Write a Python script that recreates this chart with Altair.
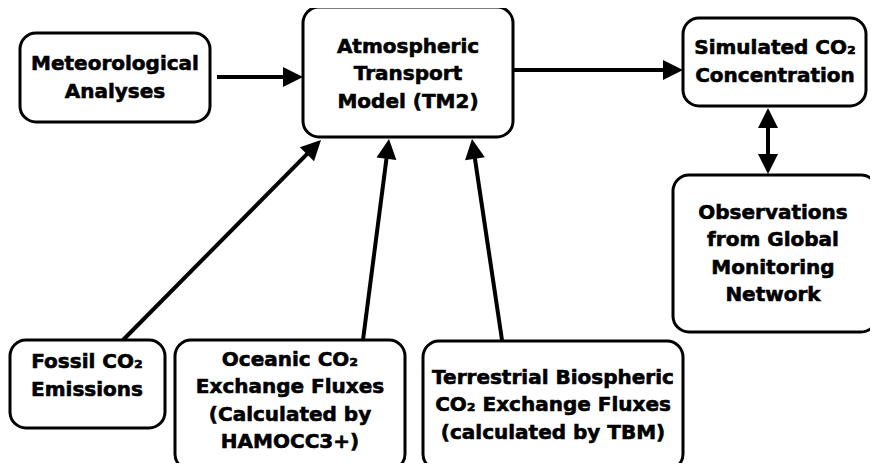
import altair as alt
import pandas as pd
import numpy as np

# ---- nodes (flowchart boxes), in picture pixel coordinates ----
labels = [
    "Meteorological\nAnalyses",
    "Atmospheric\nTransport\nModel (TM2)",
    "Simulated CO₂\nConcentration",
    "Observations\nfrom Global\nMonitoring\nNetwork",
    "Fossil CO₂\nEmissions",
    "Oceanic CO₂\nExchange Fluxes\n(Calculated by\nHAMOCC3+)",
    "Terrestrial Biospheric\nCO₂ Exchange Fluxes\n(calculated by TBM)",
]
box_x0 = [20, 303, 683, 673, 10, 175, 423]
box_x1 = [210, 513, 866, 877, 165, 405, 683]
box_y0 = [33, 7, 18, 175, 340, 340, 341]
box_y1 = [122, 137, 106, 332, 428, 470, 470]
text_x = [115, 408, 775, 773, 87, 290, 553]
text_y = [78, 74, 62, 254, 376, 401, 405]

# ---- edges (arrows) ----
edge_x0 = [217, 513, 768, 123, 363, 502]
edge_y0 = [77, 70, 108, 340, 340, 340]
edge_x1 = [303, 683, 768, 321, 389, 472]
edge_y1 = [77, 70, 174, 140, 139, 139]
edge_both = [False, False, True, False, False, False]

LH = 27.5
nodes = pd.DataFrame({"label": labels, "x0": box_x0, "x1": box_x1,
                      "y0": box_y0, "y1": box_y1, "tx": text_x, "ty": text_y})
nodes["nlines"] = nodes["label"].str.count("\n") + 1
nodes["ty_first"] = nodes["ty"] - (nodes["nlines"] - 1) * LH / 2

HEAD = 14.0
rows, heads = [], []
for x0, y0, x1, y1, both in zip(edge_x0, edge_y0, edge_x1, edge_y1, edge_both):
    dx, dy = x1 - x0, y1 - y0
    L = np.hypot(dx, dy)
    ux, uy = dx / L, dy / L
    sx, sy = x0, y0
    ex, ey = x1 - ux * HEAD, y1 - uy * HEAD
    heads.append({"x": x1, "y": y1, "angle": float(np.degrees(np.arctan2(dx, -dy)) % 360)})
    if both:
        sx, sy = x0 + ux * HEAD, y0 + uy * HEAD
        heads.append({"x": x0, "y": y0, "angle": float(np.degrees(np.arctan2(-dx, dy)) % 360)})
    rows.append({"x": sx, "y": sy, "x2": ex, "y2": ey})
lines = pd.DataFrame(rows)
heads = pd.DataFrame(heads)

xs = alt.Scale(domain=[8, 870], nice=False, zero=False)
ys = alt.Scale(domain=[8, 463], nice=False, zero=False, reverse=True)

boxes = alt.Chart(nodes).mark_rect(
    fill="white", stroke="black", strokeWidth=3, cornerRadius=16, clip=False
).encode(
    x=alt.X("x0:Q", scale=xs, axis=None), x2="x1:Q",
    y=alt.Y("y0:Q", scale=ys, axis=None), y2="y1:Q",
)

texts = alt.Chart(nodes).mark_text(
    font="DejaVu Sans", fontWeight="bold", fontSize=20, lineBreak="\n",
    lineHeight=LH, align="center", baseline="middle", color="black",
    stroke="black", strokeWidth=0.6
).encode(
    x=alt.X("tx:Q", scale=xs, axis=None),
    y=alt.Y("ty_first:Q", scale=ys, axis=None),
    text="label:N",
)

edges = alt.Chart(lines).mark_rule(strokeWidth=4, color="black").encode(
    x=alt.X("x:Q", scale=xs, axis=None), x2="x2:Q",
    y=alt.Y("y:Q", scale=ys, axis=None), y2="y2:Q",
)

arrowheads = alt.Chart(heads).mark_point(
    shape="M0,0L-0.8,1.6L0.8,1.6Z", filled=True, fill="black",
    strokeWidth=0, size=625, opacity=1
).encode(
    x=alt.X("x:Q", scale=xs, axis=None),
    y=alt.Y("y:Q", scale=ys, axis=None),
    angle=alt.Angle("angle:Q", scale=None),
)

chart = alt.layer(edges, boxes, arrowheads, texts).properties(
    width=862, height=455, padding=0, autosize="none", background="white"
).configure_view(stroke=None)

chart.save("out.html", embed_options={"renderer": "svg", "actions": False})
